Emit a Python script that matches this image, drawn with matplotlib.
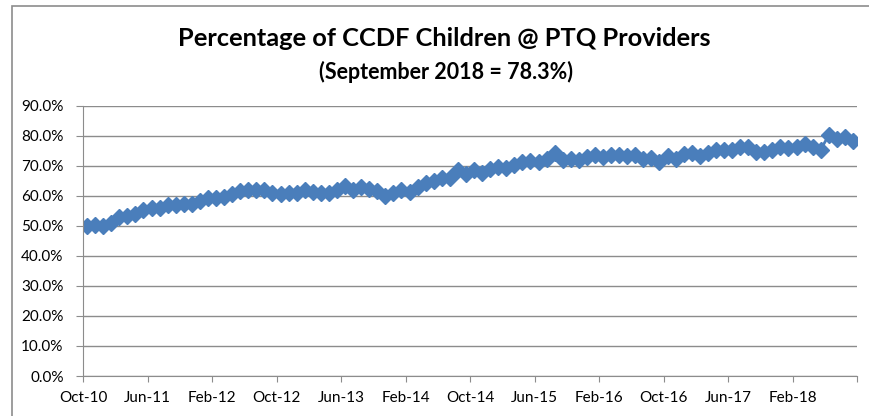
import numpy as np
import matplotlib
matplotlib.use('Agg')
import matplotlib.pyplot as plt
from matplotlib.patches import Rectangle

# Porcentaje mensual, Oct-10 .. Sep-18 (96 meses)
pct = [50.0, 50.4, 50.0, 50.8, 53.0, 53.3, 54.1, 55.2, 55.8, 56.0,
       57.1, 56.9, 57.2, 57.2, 58.2, 59.4, 59.4, 59.7, 60.6, 61.6,
       61.9, 61.9, 61.9, 61.0, 60.6, 60.8, 61.0, 61.9, 61.3, 61.0,
       60.8, 61.9, 63.2, 61.9, 62.8, 62.4, 61.6, 59.9, 61.0, 61.9,
       61.3, 63.0, 64.1, 64.8, 65.9, 65.8, 68.6, 67.4, 68.6, 67.7,
       68.8, 69.7, 69.1, 70.2, 71.3, 71.7, 71.3, 72.4, 74.1, 71.9,
       72.4, 71.9, 73.0, 73.6, 73.0, 73.6, 73.6, 73.2, 73.6, 72.1,
       72.7, 71.3, 73.2, 72.4, 73.8, 74.3, 73.2, 74.3, 75.2, 75.4,
       75.4, 76.1, 76.1, 74.7, 74.7, 75.4, 76.1, 75.8, 76.3, 77.4,
       76.3, 75.4, 80.2, 78.8, 79.7, 78.3]
tick_labels = ['Oct-10', 'Jun-11', 'Feb-12', 'Oct-12', 'Jun-13', 'Feb-14',
               'Oct-14', 'Jun-15', 'Feb-16', 'Oct-16', 'Jun-17', 'Feb-18']
y_ticks = [0, 10, 20, 30, 40, 50, 60, 70, 80, 90]

plt.rcParams['font.family'] = ['Lato', 'DejaVu Sans']

fig = plt.figure(figsize=(8.69, 4.16), dpi=100)
fig.patches.append(Rectangle((12/869, -0.1), 1.0, 1 - 6/416 + 0.1,
                             transform=fig.transFigure, fill=False,
                             edgecolor='#8c8c8c', linewidth=1.2))

ax = fig.add_axes([83/869, 1 - 376/416, (857 - 83)/869, (376 - 105.7)/416])

x = np.arange(len(pct)) + 0.5
ax.plot(x, pct, color='#4a7ebb', marker='D', markersize=8, linewidth=2,
        markeredgecolor='#4a7ebb')

ax.set_xlim(0, 96)
ax.set_ylim(0, 90)
ax.set_yticks(y_ticks)
ax.set_yticklabels(['%.1f%%' % v for v in y_ticks], fontsize=11)
ax.set_xticks(np.arange(0, 97, 8))
ax.set_xticklabels(tick_labels + [''], fontsize=11)

ax.grid(axis='y', color='#8c8c8c', linewidth=1)
ax.set_axisbelow(True)
for s in ['top', 'right']:
    ax.spines[s].set_visible(False)
for s in ['left', 'bottom']:
    ax.spines[s].set_color('#8c8c8c')
ax.tick_params(axis='y', length=5, color='#8c8c8c', pad=9)
ax.tick_params(axis='x', length=4, color='#8c8c8c', pad=7)

fig.text(444/869, 1 - 39/416, 'Percentage of CCDF Children @ PTQ Providers',
         ha='center', va='center', fontsize=18.3, fontweight='bold')
fig.text(446/869, 1 - 72/416, '(September 2018 = 78.3%)',
         ha='center', va='center', fontsize=15.5, fontweight='bold')

fig.savefig('out.png', dpi=100)
